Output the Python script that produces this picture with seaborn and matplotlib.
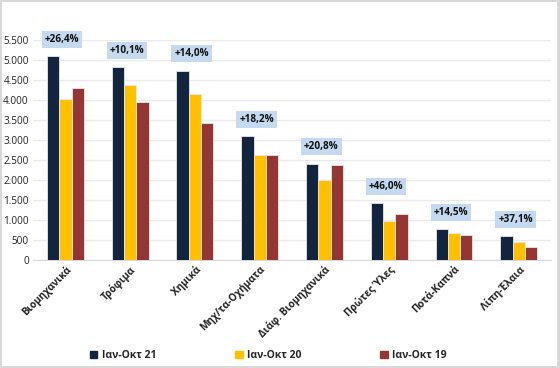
import pandas as pd
import seaborn as sns
import matplotlib.pyplot as plt
from matplotlib.patches import Rectangle
from matplotlib.ticker import FuncFormatter

# Δεδομένα
categories = ['Βιομηχανικά', 'Τρόφιμα', 'Χημικά', 'Μηχ/τα-Οχήματα',
              'Διάφ. Βιομηχανικά', 'Πρώτες Ύλες', 'Ποτά-Καπνά', 'Λίπη-Έλαια']
series = ['Ιαν-Οκτ 21', 'Ιαν-Οκτ 20', 'Ιαν-Οκτ 19']
vals_21 = [5100, 4817, 4733, 3092, 2408, 1417, 767, 600]
vals_20 = [4025, 4375, 4142, 2617, 1992, 967, 675, 438]
vals_19 = [4310, 3950, 3417, 2625, 2375, 1142, 617, 317]
changes = ['+26,4%', '+10,1%', '+14,0%', '+18,2%', '+20,8%', '+46,0%', '+14,5%', '+37,1%']
colors = ['#13243f', '#ffc000', '#943634']

df = pd.DataFrame({
    'cat': categories * 3,
    'period': [series[0]] * 8 + [series[1]] * 8 + [series[2]] * 8,
    'value': vals_21 + vals_20 + vals_19,
})

sns.set_style('white')
plt.rcParams['font.family'] = ['Open Sans', 'DejaVu Sans']

fig = plt.figure(figsize=(5.59, 3.68), dpi=100)
ax = fig.add_axes([0.059, 0.2935, 0.927, 0.598])

sns.barplot(data=df, x='cat', y='value', hue='period', palette=colors, saturation=1,
            width=0.57, gap=0, edgecolor='#e8e8e8', linewidth=0.6,
            ax=ax, legend=False, zorder=3)

ax.set_ylim(0, 5500)
ax.set_xlim(-0.5, 7.5)
ax.set_yticks(range(0, 5501, 500))
ax.yaxis.set_major_formatter(FuncFormatter(lambda v, p: f'{int(v):,}'.replace(',', '.')))
ax.grid(axis='y', color='#ebebeb', linewidth=1, zorder=0)
ax.set_xlabel('')
ax.set_ylabel('')
for s in ['top', 'right', 'left']:
    ax.spines[s].set_visible(False)
ax.spines['bottom'].set_color('#d9d9d9')
ax.tick_params(axis='both', length=0, labelsize=7.2, colors='#222222', pad=3)
ax.set_xticks(range(len(categories)))
ax.set_xticklabels(categories, rotation=45, ha='right', rotation_mode='anchor',
                   fontweight='bold', fontsize=7.2)

# Ετικέτες μεταβολής
for i, lab in enumerate(changes):
    top = max(vals_21[i], vals_20[i], vals_19[i])
    ax.text(i - 0.05, top + 420, lab, ha='center', va='center', fontsize=7.2,
            fontweight='bold', color='#111111', clip_on=False, zorder=5,
            bbox=dict(boxstyle='square,pad=0.3', facecolor='#c5d9f1', edgecolor='none'))

# Υπόμνημα
handles = [Rectangle((0, 0), 1, 1, color=c) for c in colors]
leg = fig.legend(handles, series, loc='center', bbox_to_anchor=(0.48, 0.033), ncol=3,
                 frameon=False, handlelength=0.7, handleheight=0.7, handletextpad=0.4,
                 columnspacing=7.6, prop={'size': 7.5, 'weight': 'bold'})

# Περίγραμμα
fig.patches.append(Rectangle((0.002, 0.003), 0.996, 0.994, transform=fig.transFigure,
                             fill=False, edgecolor='#d9d9d9', linewidth=1.5))

fig.savefig('out.png', dpi=100)
